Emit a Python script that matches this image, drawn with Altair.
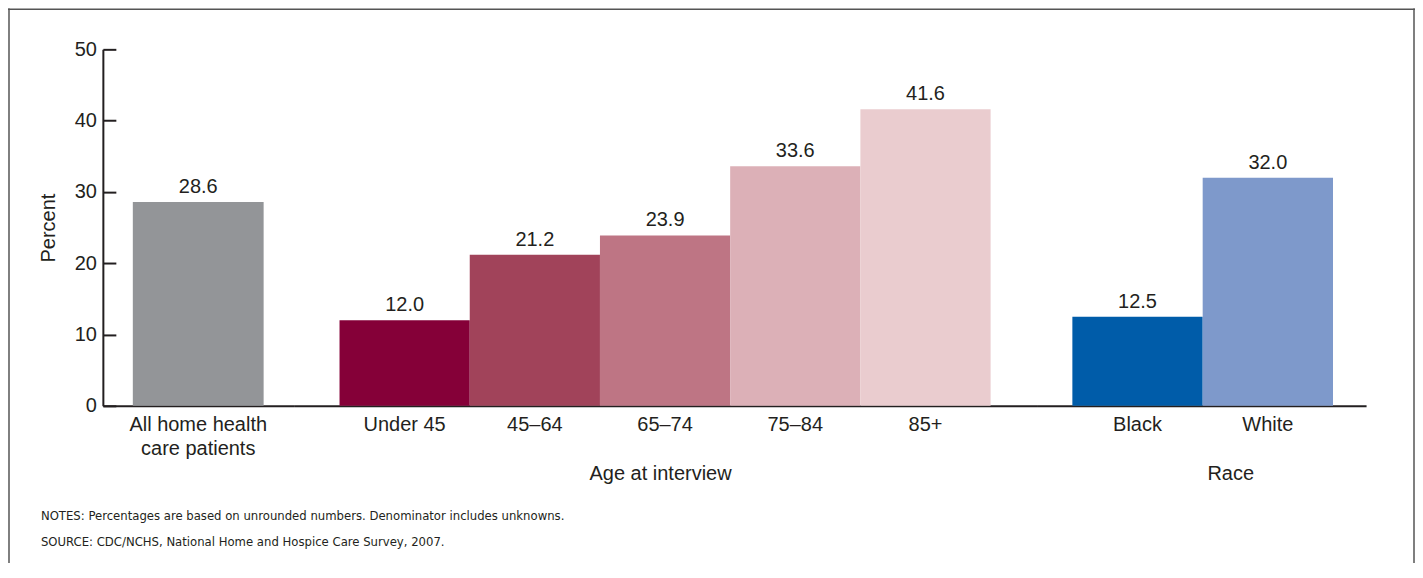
import altair as alt
import pandas as pd

# ---- data ----
cat_all = ["All home health care patients"]
val_all = [28.6]
cat_age = ["Under 45", "45–64", "65–74", "75–84", "85+"]
val_age = [12.0, 21.2, 23.9, 33.6, 41.6]
cat_race = ["Black", "White"]
val_race = [12.5, 32.0]
colors_all = ["#939598"]
colors_age = ["#850038", "#a1435a", "#be7584", "#dcb0b7", "#eacccf"]
colors_race = ["#005ca9", "#7e99cb"]
group_age = "Age at interview"
group_race = "Race"
notes_line = "NOTES: Percentages are based on unrounded numbers. Denominator includes unknowns."
source_line = "SOURCE: CDC/NCHS, National Home and Hospice Care Survey, 2007."
y_ticks = [0, 10, 20, 30, 40, 50]

# ---- layout ----
W, H = 1409, 555
INK = "#231f20"
FONT = "Liberation Sans"
NOTE_FONT = "Liberation Sans Narrow, Arial Narrow, DejaVu Sans Condensed, Liberation Sans"
Y0, Y50 = 398, 41          # pixel range of the y scale inside the view
AXIS_X = 95                # y axis line position

all_cats = cat_all + cat_age + cat_race
all_cols = colors_all + colors_age + colors_race
color_scale = alt.Scale(domain=all_cats, range=all_cols)

y_axis = alt.Axis(
    orient="right", offset=AXIS_X - W, values=y_ticks, grid=False,
    tickSize=13, tickWidth=2, tickColor=INK, domainWidth=2, domainColor=INK,
    labelAlign="right", labelPadding=-19.5, labelBaseline="middle",
    labelFontSize=20, labelFont=FONT, labelColor=INK, labelFontWeight="normal",
    title="Percent", titleAngle=270, titleX=-54.5, titleY=(Y0 + Y50) / 2,
    titleAlign="center", titleBaseline="middle", titleFontSize=20,
    titleFont=FONT, titleFontWeight="normal", titleColor=INK,
)


def ydef():
    return alt.Y("value:Q", scale=alt.Scale(domain=[0, 50], range=[Y0, Y50], nice=False),
                 axis=y_axis, title="Percent")


def xaxis(title=None, title_x=None):
    kw = dict(
        orient="bottom", offset=Y0 - H, ticks=False, tickSize=0, grid=False,
        labelPadding=9, labelAngle=0, labelFontSize=20, labelFont=FONT, labelColor=INK,
        labelLineHeight=24, labelLimit=400,
        labelExpr="datum.label == 'All home health care patients' ? ['All home health', 'care patients'] : datum.label",
        domainColor=INK, domainWidth=2,
    )
    if title is not None:
        kw.update(title=title, titleX=title_x, titleY=74, titleBaseline="alphabetic",
                  titleFontSize=20, titleFont=FONT, titleFontWeight="normal", titleColor=INK)
    return alt.Axis(**kw)


def panel(cats, vals, rng, po, align, axis, title):
    df = pd.DataFrame({"category": cats, "value": vals})
    x = alt.X("category:N", sort=cats,
              scale=alt.Scale(range=rng, paddingInner=0, paddingOuter=po, align=align),
              axis=axis, title=title)
    base = alt.Chart(df).encode(x=x, y=ydef())
    bars = base.mark_bar().encode(color=alt.Color("category:N", scale=color_scale, legend=None))
    text = base.mark_text(baseline="alphabetic", dy=-9, fontSize=20, font=FONT, color=INK).encode(
        text=alt.Text("value:Q", format=".1f"))
    return alt.layer(bars, text)


p1 = panel(cat_all, val_all, [95, 286], 30 / 131, 0.5, xaxis(), None)
p2 = panel(cat_age, val_age, [286, 1030], 46 / 130.4, 0.5, xaxis(group_age, 653), group_age)
p3 = panel(cat_race, val_race, [1030, 1360], 69 / 2 / 130.5, 0.52, xaxis(group_race, 1224), group_race)

one = pd.DataFrame({"a": [0]})
BORDER = "#555555"
border_left = alt.Chart(one).mark_rule(color=BORDER, strokeWidth=1.5).encode(
    x=alt.value(1), y=alt.value(0), y2=alt.value(H + 20))
border_right = alt.Chart(one).mark_rule(color=BORDER, strokeWidth=1.5).encode(
    x=alt.value(W - 1), y=alt.value(0), y2=alt.value(H + 20))
border_top = alt.Chart(one).mark_rule(color=BORDER, strokeWidth=1.5).encode(
    y=alt.value(0.75), x=alt.value(0), x2=alt.value(W))


def note(txt, ypx):
    return alt.Chart(pd.DataFrame({"t": [txt]})).mark_text(
        align="left", baseline="alphabetic", fontSize=13, font=NOTE_FONT, color=INK
    ).encode(text="t:N", x=alt.value(33), y=alt.value(ypx))


chart = alt.layer(
    p1, p2, p3, note(notes_line, 512), note(source_line, 538),
    border_left, border_right, border_top
).resolve_scale(
    x="independent"
).properties(
    width=W, height=H, autosize=alt.AutoSizeParams(type="none"), padding=0,
    background="white"
).configure_view(stroke=None)

chart.save("out.html", embed_options={"renderer": "svg", "actions": False})
